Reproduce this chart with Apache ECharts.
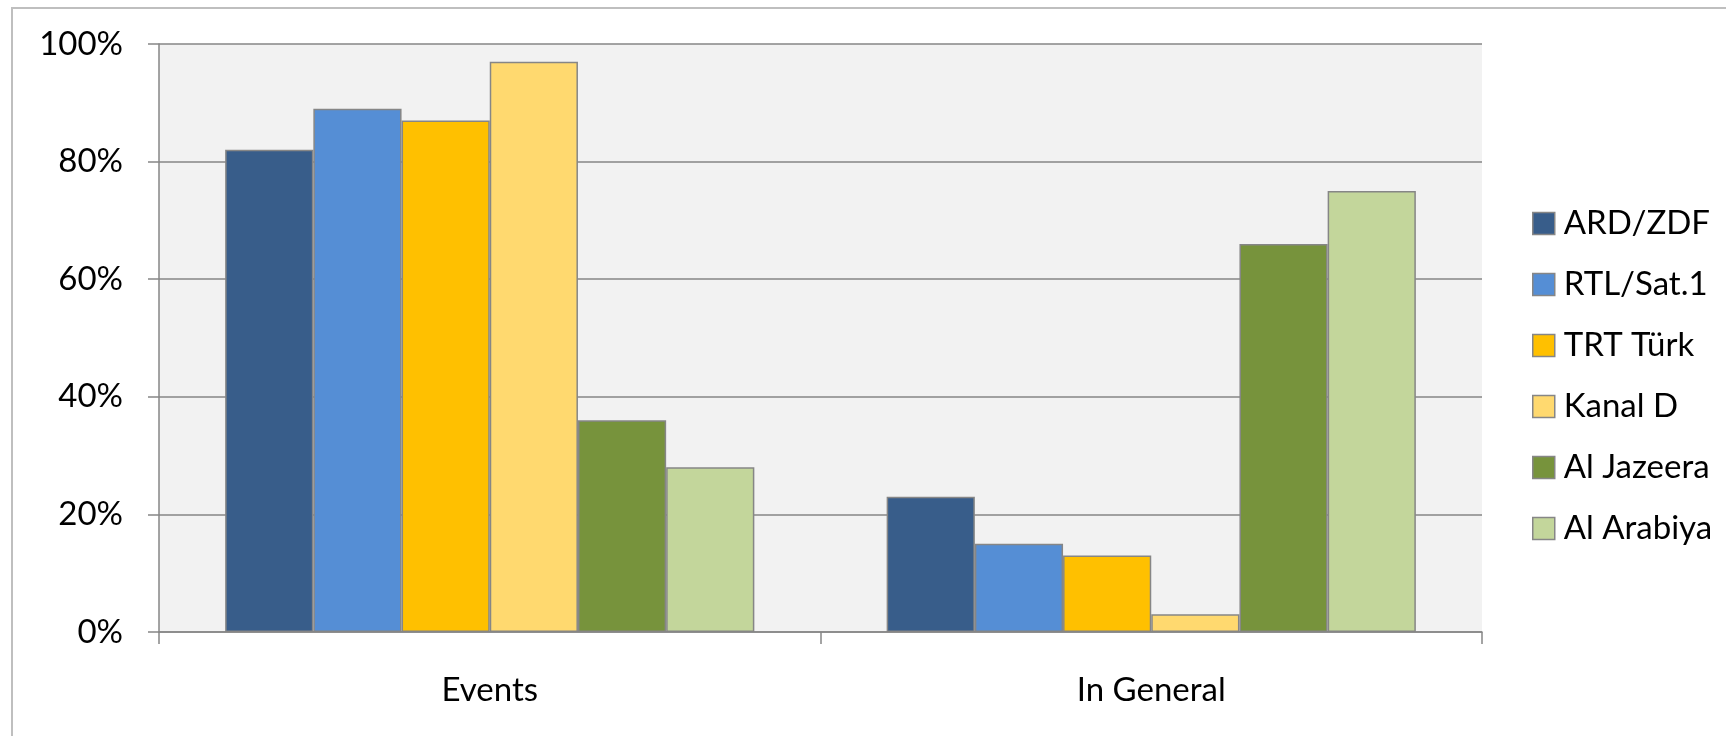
<!DOCTYPE html>
<html>
  <head>
    <meta charset="utf-8">
    <title>Channels</title>
    <style>
      html, body { margin: 0; padding: 0; background: #fff; }
      #main { width: 1726px; height: 736px; }
    </style>
  </head>
  <body>
    <div id="main"></div>
  </body>
  <script src="https://cdn.jsdelivr.net/npm/echarts@6/dist/echarts.min.js"></script>
  <script type="text/javascript">
    // categories and values (percent)
    var categories = ["Events", "In General"];
    var channels = ["ARD/ZDF", "RTL/Sat.1", "TRT Türk", "Kanal D", "Al Jazeera", "Al Arabiya"];
    var ardZdf = [82, 23];
    var rtlSat1 = [89, 15];
    var trtTurk = [87, 13];
    var kanalD = [97, 3];
    var alJazeera = [36, 66];
    var alArabiya = [28, 75];
    var colors = ["#385D8A", "#558ED5", "#FFC000", "#FFD96F", "#77933C", "#C3D69B"];

    var values = [ardZdf, rtlSat1, trtTurk, kanalD, alJazeera, alArabiya];
    var font = "Lato, 'Open Sans', sans-serif";

    var chart = echarts.init(document.getElementById("main"), null, { renderer: "canvas" });

    var series = channels.map(function (name, i) {
      return {
        name: name,
        type: "bar",
        data: values[i],
        barGap: "0%",
        barCategoryGap: "20%",
        itemStyle: { color: colors[i], borderColor: "#868686", borderWidth: 1.5 }
      };
    });

    var option = {
      animation: false,
      graphic: [
        {
          type: "rect",
          shape: { x: 12, y: 8, width: 1800, height: 800 },
          style: { fill: "none", stroke: "#BFBFBF", lineWidth: 2 },
          silent: true
        }
      ],
      grid: {
        left: 159,
        top: 44,
        right: 244,
        bottom: 104,
        show: true,
        backgroundColor: "#F2F2F2",
        borderWidth: 0
      },
      legend: {
        orient: "vertical",
        left: 1527,
        top: 202,
        itemWidth: 22,
        itemHeight: 22,
        itemGap: 28,
        icon: "rect",
        itemStyle: { borderColor: "#868686", borderWidth: 1.5 },
        textStyle: {
          fontFamily: font,
          fontSize: 33,
          color: "#000",
          padding: [0, 0, 0, 4]
        },
        data: channels
      },
      xAxis: {
        type: "category",
        data: categories,
        axisLine: { lineStyle: { color: "#868686", width: 1.5 } },
        axisTick: { show: true, length: 12, lineStyle: { color: "#868686", width: 1.5 } },
        axisLabel: { margin: 42, fontFamily: font, fontSize: 33, color: "#000" }
      },
      yAxis: {
        type: "value",
        min: 0,
        max: 100,
        interval: 20,
        axisLine: { show: true, lineStyle: { color: "#868686", width: 1.5 } },
        axisTick: { show: true, length: 11, lineStyle: { color: "#868686", width: 1.5 } },
        splitLine: { lineStyle: { color: "#868686", width: 1.5 } },
        axisLabel: {
          margin: 36,
          fontFamily: font,
          fontSize: 33,
          color: "#000",
          formatter: "{value}%"
        }
      },
      series: series
    };

    chart.setOption(option);
    window.addEventListener("resize", chart.resize);
  </script>
</html>
